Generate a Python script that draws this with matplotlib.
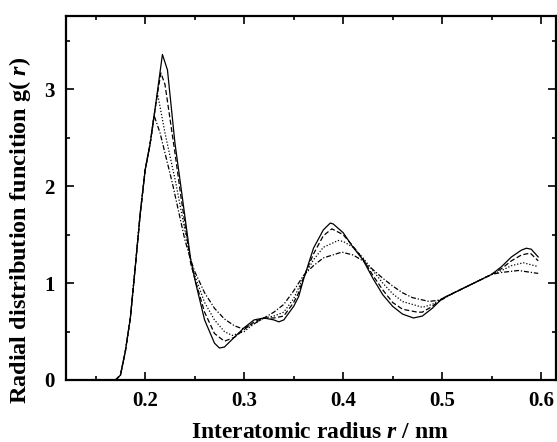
import matplotlib
matplotlib.use("Agg")
import matplotlib.pyplot as plt
from matplotlib.ticker import MultipleLocator

plt.rcParams['font.family'] = ['Liberation Serif', 'DejaVu Serif']
plt.rcParams['font.weight'] = 'bold'
plt.rcParams['mathtext.fontset'] = 'custom'
plt.rcParams['mathtext.rm'] = 'Liberation Serif:bold'
plt.rcParams['mathtext.it'] = 'Liberation Serif:bold:italic'

# common rising edge (all four curves overlap here)
r_rise = [0.170, 0.175, 0.180, 0.185, 0.190, 0.195, 0.200, 0.205]
g_rise = [0.00, 0.05, 0.30, 0.64, 1.17, 1.72, 2.17, 2.44]

# solid curve
r_solid = [0.210, 0.2174, 0.2225, 0.230, 0.236, 0.246, 0.251, 0.260, 0.270, 0.275,
           0.280, 0.290, 0.300, 0.310, 0.320, 0.330, 0.335, 0.340, 0.350, 0.355,
           0.360, 0.370, 0.380, 0.387, 0.390, 0.400, 0.410, 0.420, 0.430, 0.440,
           0.450, 0.460, 0.471, 0.480, 0.490, 0.500, 0.510, 0.520, 0.530, 0.540,
           0.550, 0.560, 0.570, 0.580, 0.585, 0.590, 0.597]
g_solid = [2.80, 3.36, 3.20, 2.45, 2.00, 1.24, 1.00, 0.62, 0.38, 0.33,
           0.34, 0.44, 0.54, 0.62, 0.64, 0.62, 0.60, 0.62, 0.76, 0.86,
           1.04, 1.36, 1.55, 1.62, 1.61, 1.52, 1.37, 1.24, 1.05, 0.88,
           0.76, 0.68, 0.64, 0.66, 0.74, 0.84, 0.89, 0.94, 0.99, 1.04,
           1.09, 1.17, 1.27, 1.34, 1.36, 1.35, 1.27]

# dashed curve
r_dash = [0.210, 0.2158, 0.220, 0.225, 0.230, 0.236, 0.246, 0.250, 0.260, 0.270,
          0.280, 0.290, 0.300, 0.310, 0.320, 0.330, 0.340, 0.350, 0.355, 0.360,
          0.370, 0.380, 0.3886, 0.400, 0.410, 0.420, 0.430, 0.440, 0.450, 0.460,
          0.475, 0.480, 0.490, 0.500, 0.510, 0.520, 0.530, 0.540, 0.550, 0.560,
          0.570, 0.580, 0.589, 0.597]
g_dash = [2.80, 3.17, 3.05, 2.70, 2.35, 1.90, 1.20, 1.05, 0.70, 0.48,
          0.40, 0.44, 0.52, 0.60, 0.64, 0.64, 0.66, 0.80, 0.90, 1.06,
          1.30, 1.49, 1.56, 1.50, 1.38, 1.25, 1.08, 0.93, 0.80, 0.73,
          0.70, 0.70, 0.76, 0.84, 0.89, 0.94, 0.99, 1.04, 1.09, 1.15,
          1.23, 1.29, 1.31, 1.23]

# dotted curve
r_dot = [0.2124, 0.220, 0.231, 0.240, 0.246, 0.250, 0.260, 0.270, 0.280, 0.288,
         0.300, 0.310, 0.320, 0.330, 0.340, 0.350, 0.360, 0.370, 0.380, 0.395,
         0.400, 0.410, 0.420, 0.430, 0.440, 0.450, 0.460, 0.480, 0.490, 0.500,
         0.510, 0.520, 0.530, 0.540, 0.550, 0.560, 0.570, 0.582, 0.597]
g_dot = [2.96, 2.55, 2.03, 1.55, 1.24, 1.08, 0.80, 0.62, 0.50, 0.46,
         0.50, 0.58, 0.64, 0.66, 0.70, 0.84, 1.06, 1.24, 1.37, 1.44,
         1.43, 1.37, 1.26, 1.13, 1.00, 0.89, 0.81, 0.75, 0.78, 0.84,
         0.89, 0.94, 0.99, 1.04, 1.09, 1.13, 1.18, 1.21, 1.17]

# dash-dot curve
r_dd = [0.209, 0.215, 0.2275, 0.240, 0.246, 0.250, 0.260, 0.270, 0.280, 0.290,
        0.298, 0.310, 0.320, 0.330, 0.340, 0.350, 0.360, 0.370, 0.380, 0.3987,
        0.410, 0.420, 0.430, 0.440, 0.450, 0.460, 0.470, 0.487, 0.500, 0.510,
        0.520, 0.530, 0.540, 0.550, 0.560, 0.577, 0.597]
g_dd = [2.73, 2.55, 2.03, 1.45, 1.24, 1.12, 0.90, 0.74, 0.63, 0.56,
        0.53, 0.58, 0.64, 0.70, 0.78, 0.92, 1.08, 1.18, 1.26, 1.32,
        1.29, 1.23, 1.14, 1.05, 0.97, 0.90, 0.85, 0.81, 0.83, 0.89,
        0.94, 0.99, 1.04, 1.09, 1.11, 1.13, 1.10]

fig = plt.figure(figsize=(5.57, 4.42), dpi=100)
ax = fig.add_axes([0.1185, 0.1403, 0.8797, 0.8235])

ax.plot(r_rise + r_solid, g_rise + g_solid, color='black', lw=0.9, ls='-')
ax.plot(r_rise + r_dash, g_rise + g_dash, color='black', lw=0.9, ls=(0, (4, 2)))
ax.plot(r_rise + r_dot, g_rise + g_dot, color='black', lw=0.9, ls=(0, (1, 1.5)))
ax.plot(r_rise + r_dd, g_rise + g_dd, color='black', lw=0.9, ls=(0, (4, 1.5, 1, 1.5)))

ax.set_xlim(0.12, 0.615)
ax.set_ylim(0, 3.757)
ax.xaxis.set_minor_locator(MultipleLocator(0.05))
ax.yaxis.set_major_locator(MultipleLocator(1))
ax.yaxis.set_minor_locator(MultipleLocator(0.5))
ax.set_xticks([0.2, 0.3, 0.4, 0.5, 0.6])
ax.set_xticklabels(['0.2', '0.3', '0.4', '0.5', '0.6'])

ax.tick_params(which='both', direction='in', top=True, right=True,
               labelsize=15, width=1.2)
ax.tick_params(which='major', length=6, pad=8)
ax.tick_params(which='minor', length=3)
for s in ax.spines.values():
    s.set_linewidth(1.6)

ax.set_xlabel('Interatomic radius $r$ / nm', fontsize=17, fontweight='bold')
ax.set_ylabel('Radial distribution funcition g( $r$)', fontsize=17.5, fontweight='bold')
ax.xaxis.set_label_coords(0.518, -0.115)
ax.yaxis.set_label_coords(-0.068, 0.41)

fig.savefig('out.png', dpi=100)
